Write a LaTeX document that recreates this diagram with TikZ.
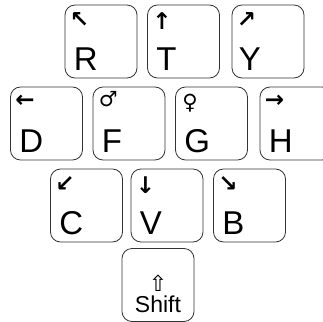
\documentclass[tikz,border=0pt]{standalone}
\usepackage{fontspec}
\setmainfont{Liberation Sans}
\newfontfamily\symfont{DejaVu Sans}
\usetikzlibrary{positioning}

\tikzset{
    key/.style={draw=black!80, line width=0.8pt, rounded corners=10pt,
        minimum width=72pt, minimum height=73pt, inner sep=0pt},
    letter/.style={anchor=base west, inner sep=0pt,
        font=\fontsize{33}{33}\selectfont},
    sym/.style={anchor=north west, inner sep=0pt,
        font=\symfont\bfseries\fontsize{23}{23}\selectfont},
    gender/.style={anchor=north west, inner sep=0pt,
        font=\symfont\fontsize{21}{21}\selectfont}
}

\begin{document}
\begin{tikzpicture}[x=1pt, y=-1pt]
    \useasboundingbox (0,0) rectangle (323,321);
    \clip (0,0) rectangle (323,321);

    % Keys
    \node[key] (R) at (101,41.5) {};
    \node[key] (T) at (183.5,41.5) {};
    \node[key] (Y) at (268,41.5) {};
    \node[key] (D) at (46.5,123.5) {};
    \node[key] (F) at (129,123.5) {};
    \node[key] (G) at (211.5,123.5) {};
    \node[key] (H) at (296,123.5) {};
    \node[key] (C) at (86.5,205.5) {};
    \node[key] (V) at (167,205.5) {};
    \node[key] (B) at (249.5,205.5) {};
    \node[key] (shift) at (158,285) {};

    % Letters
    \node[letter] (R-l) at ([xshift=9pt,yshift=8pt]R.south west) {R};
    \node[letter] (T-l) at ([xshift=9pt,yshift=8pt]T.south west) {T};
    \node[letter] (Y-l) at ([xshift=7pt,yshift=8pt]Y.south west) {Y};
    \node[letter] (D-l) at ([xshift=9pt,yshift=8pt]D.south west) {D};
    \node[letter] (F-l) at ([xshift=9pt,yshift=8pt]F.south west) {F};
    \node[letter] (G-l) at ([xshift=9pt,yshift=8pt]G.south west) {G};
    \node[letter] (H-l) at ([xshift=9pt,yshift=8pt]H.south west) {H};
    \node[letter] (C-l) at ([xshift=9pt,yshift=8pt]C.south west) {C};
    \node[letter] (V-l) at ([xshift=9pt,yshift=8pt]V.south west) {V};
    \node[letter] (B-l) at ([xshift=9pt,yshift=8pt]B.south west) {B};

    % Symbols
    \node[sym] (R-s) at ([xshift=5pt,yshift=-8pt]R.north west) {↖};
    \node[sym] (T-s) at ([xshift=5pt,yshift=-8pt]T.north west) {↑};
    \node[sym] (Y-s) at ([xshift=5pt,yshift=-8pt]Y.north west) {↗};
    \node[sym] (D-s) at ([xshift=5pt,yshift=-8pt]D.north west) {←};
    \node[gender] (F-s) at ([xshift=6pt,yshift=-5pt]F.north west) {♂};
    \node[gender] (G-s) at ([xshift=7pt,yshift=-7pt]G.north west) {♀};
    \node[sym] (H-s) at ([xshift=5pt,yshift=-8pt]H.north west) {→};
    \node[sym] (C-s) at ([xshift=5pt,yshift=-8pt]C.north west) {↙};
    \node[sym] (V-s) at ([xshift=5pt,yshift=-8pt]V.north west) {↓};
    \node[sym] (B-s) at ([xshift=5pt,yshift=-8pt]B.north west) {↘};

    % Shift key text
    \node[font=\symfont\fontsize{22}{22}\selectfont, inner sep=0pt]
        (shift-s) at ([yshift=-35pt]shift.north) {⇧};
    \node[anchor=base, inner sep=0pt, font=\fontsize{23}{23}\selectfont]
        (shift-l) at ([yshift=9pt]shift.south) {Shift};
\end{tikzpicture}
\end{document}
